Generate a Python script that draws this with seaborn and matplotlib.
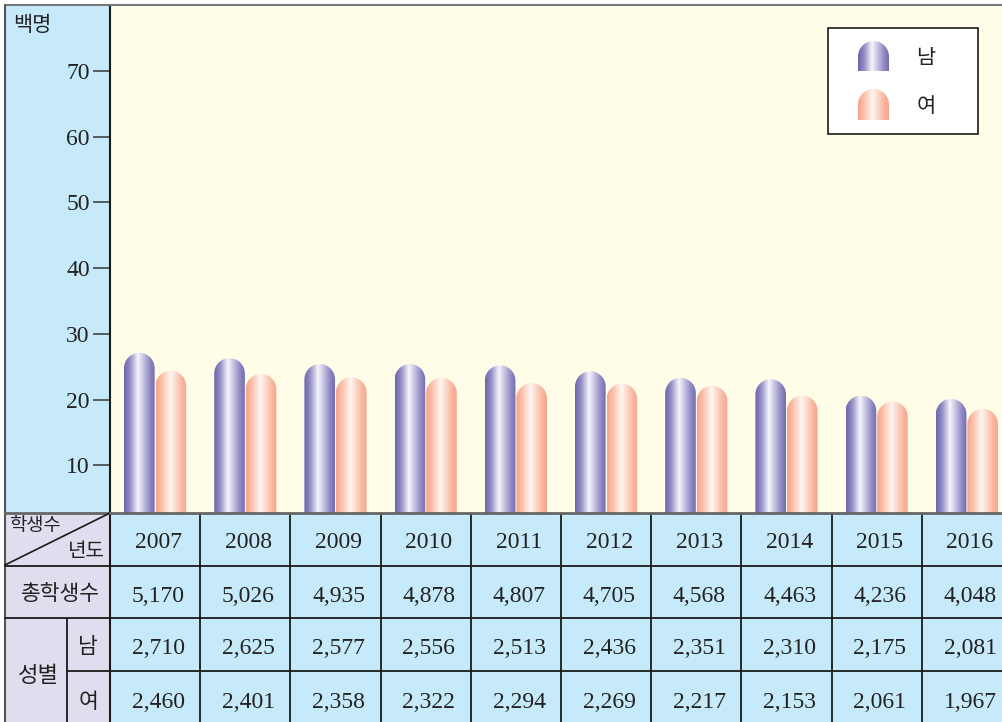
import numpy as np
import pandas as pd
import matplotlib
matplotlib.use("Agg")
import matplotlib.pyplot as plt
import seaborn as sns
from matplotlib.path import Path
from matplotlib.patches import Rectangle
from matplotlib.colors import LinearSegmentedColormap
from matplotlib.transforms import blended_transform_factory

# table values (students)
years = ["2007", "2008", "2009", "2010", "2011", "2012", "2013", "2014", "2015", "2016"]
total = [5170, 5026, 4935, 4878, 4807, 4705, 4568, 4463, 4236, 4048]
male = [2710, 2625, 2577, 2556, 2513, 2436, 2351, 2310, 2175, 2081]
female = [2460, 2401, 2358, 2322, 2294, 2269, 2217, 2153, 2061, 1967]

# bar heights as drawn in the chart (백명 = hundreds)
male_bar = [27.1, 26.3, 25.4, 25.4, 25.2, 24.3, 23.3, 23.1, 20.6, 20.1]
female_bar = [24.4, 23.9, 23.4, 23.3, 22.5, 22.4, 22.1, 20.6, 19.7, 18.6]
yticks = [10, 20, 30, 40, 50, 60, 70]

W, H = 1002, 722
BLUE = "#c6eaf9"
LAV = "#e0ddef"
CREAM = "#fffde8"
LINE = "#1a1a1a"

sns.set_theme(style="white")
num_font = ["Liberation Serif", "Noto Sans CJK KR"]
kr_font = ["Noto Sans CJK KR", "DejaVu Sans"]
plt.rcParams["font.family"] = num_font

male_cmap = LinearSegmentedColormap.from_list("m", [
    (0, "#6c64aa"), (0.2, "#948ec6"), (0.45, "#f6f6fc"),
    (0.6, "#cfcce6"), (0.85, "#8d87c2"), (1, "#736cb2")])
female_cmap = LinearSegmentedColormap.from_list("f", [
    (0, "#f7a287"), (0.2, "#fbc2ad"), (0.47, "#fff6f1"),
    (0.6, "#fde0d4"), (0.85, "#f9b59e"), (1, "#f6a88e")])


def cap_path(x0, x1, yb, yt, ry, n=40):
    # bar outline with a rounded top; ry is the cap radius in y data units
    rx = (x1 - x0) / 2
    cx = (x0 + x1) / 2
    yc = yt - ry
    t = np.linspace(0, np.pi, n)
    arc = np.column_stack([cx + rx * np.cos(t), yc + ry * np.sin(t)])
    verts = np.vstack([[x0, yb], [x1, yb], arc, [x0, yb]])
    codes = [Path.MOVETO] + [Path.LINETO] * (len(verts) - 2) + [Path.CLOSEPOLY]
    return Path(verts, codes)


def paint(target, path, x0, x1, yb, yt, cmap, zorder=2):
    grad = np.linspace(0, 1, 256).reshape(1, -1)
    im = target.imshow(grad, cmap=cmap, extent=[x0, x1, yb, yt], aspect="auto",
                       interpolation="bilinear", zorder=zorder)
    im.set_clip_path(path, transform=target.transData)


fig = plt.figure(figsize=(W / 100, H / 100), dpi=100, facecolor="white")

# pixel overlay for frame and table
ov = fig.add_axes([0, 0, 1, 1], zorder=0)
ov.set_xlim(0, W)
ov.set_ylim(H, 0)
ov.axis("off")

ax = fig.add_axes([110 / W, (H - 513) / H, 902 / W, 508 / H], zorder=1)
df = pd.DataFrame({
    "year": years * 2,
    "value": male_bar + female_bar,
    "sex": ["남"] * len(years) + ["여"] * len(years),
})
sns.barplot(data=df, x="year", y="value", hue="sex",
            palette={"남": "#7a72b6", "여": "#f8b098"},
            width=0.7, gap=0.03, legend=False, errorbar=None, ax=ax)

xlim = (-0.5, len(years) - 0.5)
ylim = (2.75, 80)
ax.set_xlim(*xlim)
ax.set_ylim(*ylim)
ax.set_facecolor(CREAM)
ax.set_xlabel("")
ax.set_ylabel("")
ax.set_xticks([])
ax.set_yticks(yticks)
ax.set_yticklabels([str(v) for v in yticks])
ax.tick_params(axis="y", left=True, direction="out", length=12.5, width=1.2,
               color="#444", pad=2, labelsize=17, labelcolor="#222")
ax.spines["left"].set_color(LINE)
ax.spines["left"].set_linewidth(1.5)
ax.spines["top"].set_color("#777")
ax.spines["top"].set_linewidth(1.5)
ax.spines["bottom"].set_color("#666")
ax.spines["bottom"].set_linewidth(2)
ax.spines["right"].set_visible(False)

# replace flat bars by rounded gradient cylinders
p0 = ax.transData.transform((0, 0))
p1 = ax.transData.transform((1, 1))
sx, sy = p1[0] - p0[0], p1[1] - p0[1]
for cont, cmap in zip(ax.containers, [male_cmap, female_cmap]):
    for bar in cont:
        x0 = bar.get_x()
        w = bar.get_width()
        top = bar.get_height()
        bar.set_visible(False)
        ry = (w / 2) * sx / sy
        paint(ax, cap_path(x0, x0 + w, 0, top, ry), x0, x0 + w, 0, top, cmap)
ax.set_xlim(*xlim)
ax.set_ylim(*ylim)

# left column
ov.add_patch(Rectangle((5, 5), 105, 508, fc=BLUE, ec="none"))
ov.plot([5, 110], [5, 5], color="#777", lw=1.5)
ov.plot([5, 5], [5, H], color="#555", lw=1.5)
ov.plot([5, 110], [513, 513], color="#666", lw=2)
ov.text(13, 25, "백명", fontsize=15, family=kr_font, ha="left", va="center", color="#222")

# table
tr = blended_transform_factory(ax.transData, ov.transData)
ov.add_patch(Rectangle((5, 514), 105, H - 514, fc=LAV, ec="none"))
ov.add_patch(Rectangle((xlim[0], 514), xlim[1] - xlim[0], H - 514, fc=BLUE, ec="none",
                       transform=tr))
for yy in [566, 618]:
    ov.plot([5, W], [yy, yy], color=LINE, lw=1.3)
ov.plot([67, W], [671, 671], color=LINE, lw=1.3)
ov.plot([110, 110], [513, H], color=LINE, lw=1.5)
ov.plot([67, 67], [618, H], color=LINE, lw=1.3)
ov.plot([5, 110], [565, 513], color=LINE, lw=1.2)
for i in range(len(years) - 1):
    ov.plot([i + 0.5, i + 0.5], [514, H], color=LINE, lw=1.3, transform=tr)

ov.text(35, 526, "학생수", fontsize=13.5, family=kr_font, ha="center", va="center", color="#222")
ov.text(86, 552, "년도", fontsize=14.5, family=kr_font, ha="center", va="center", color="#222")
ov.text(60, 594, "총학생수", fontsize=15.5, family=kr_font, ha="center", va="center", color="#222")
ov.text(38, 676, "성별", fontsize=16, family=kr_font, ha="center", va="center", color="#222")
ov.text(88, 647, "남", fontsize=15.5, family=kr_font, ha="center", va="center", color="#222")
ov.text(88, 702, "여", fontsize=15.5, family=kr_font, ha="center", va="center", color="#222")

rows = [
    (543, years),
    (596, [f"{v:,}" for v in total]),
    (649, [f"{v:,}" for v in male]),
    (702, [f"{v:,}" for v in female]),
]
for yy, labels in rows:
    for i, lab in enumerate(labels):
        ov.text(i + 0.035, yy, lab, transform=tr, fontsize=17, ha="center",
                va="center", color="#222")

# legend
lg = fig.add_axes([0, 0, 1, 1], zorder=3)
lg.patch.set_alpha(0)
lg.axis("off")
lg.add_patch(Rectangle((828, 28), 150, 106, fc="white", ec=LINE, lw=1.2))
for (top, bottom), cmap, lab in zip([(41, 71), (89, 120)], [male_cmap, female_cmap], ["남", "여"]):
    paint(lg, cap_path(858, 889, bottom, top, -15.5), 858, 889, bottom, top, cmap, zorder=4)
    lg.text(926, (top + bottom) / 2 + 2, lab, fontsize=15, family=kr_font,
            ha="center", va="center", color="#222")
lg.set_xlim(0, W)
lg.set_ylim(H, 0)

fig.savefig("out.png", dpi=100, facecolor="white")
